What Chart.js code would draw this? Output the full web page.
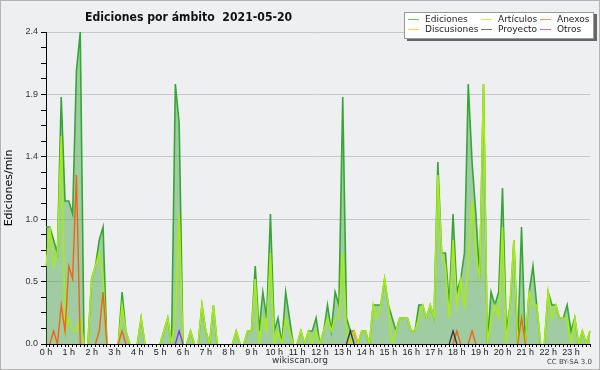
<!DOCTYPE html>
<html>
<head>
<meta charset="utf-8">
<script src="https://cdn.jsdelivr.net/npm/chart.js@4.4.1/dist/chart.umd.min.js"></script>
<style>
  html, body { margin: 0; padding: 0; background: #eeeff1; }
  #wrap { position: relative; width: 600px; height: 370px; overflow: hidden; }
  #chart { position: absolute; left: 0; top: 0; }
  #frame { position: absolute; left: 0; top: 0; width: 600px; height: 370px; box-sizing: border-box; border: 1px solid #b4b4b4; pointer-events: none; }
  #title { position: absolute; left: 85px; top: 9px; font: bold 13px "DejaVu Sans", sans-serif; line-height: 15px; white-space: pre; color: #111; transform: scaleX(0.84); transform-origin: 0 0; }
  #legend { position: absolute; left: 404px; top: 12px; width: 188px; height: 25px; background: #fff; border: 1px solid #999; box-shadow: 3px 2px 0 #666; }
  .item { position: absolute; font: 9px "DejaVu Sans", sans-serif; line-height: 10px; color: #222; white-space: nowrap; }
  .swatch { position: absolute; width: 11px; height: 1px; opacity: 0.7; }
  #site { position: absolute; left: 0; width: 600px; top: 355px; text-align: center; font: 9px "DejaVu Sans", sans-serif; color: #333; }
  #licence { position: absolute; right: 8px; top: 358px; font: 7px "DejaVu Sans", sans-serif; color: #444; }
</style>
</head>
<body>
<div id="wrap">
  <canvas id="chart" width="600" height="370"></canvas>
  <div id="title">Ediciones por ámbito  2021-05-20</div>
  <div id="legend"></div>
  <div id="site">wikiscan.org</div>
  <div id="licence">CC BY-SA 3.0</div>
  <div id="frame"></div>
</div>
<script>
// one value every 10 minutes, edits per minute
const ediciones = [
  0.9,0.9,0.8,0.7,1.9,1.1,1.1,1.0,2.1,2.4,0,0,0.5,0.6,0.8,0.9,0,0,0,0,0.4,0.1,0,0,
  0,0.2,0,0,0,0,0,0.1,0.2,0,2.0,1.7,0,0,0.1,0,0,0.3,0.1,0,0.3,0,0,0,
  0,0,0.1,0,0,0.1,0.1,0.6,0.1,0.4,0.2,1.0,0.1,0.2,0,0.4,0.2,0,0,0.1,0,0.1,0.1,0.2,
  0,0.1,0.3,0.1,0.4,0.3,1.9,0.2,0.1,0.1,0,0.1,0.1,0,0.3,0.3,0.3,0.5,0.3,0.2,0.1,0.2,0.2,0.2,
  0.1,0.1,0.3,0.3,0.2,0.3,0.2,1.4,0.7,0.7,0.3,1.0,0.4,0.5,0.7,2.0,1.4,1.0,0.5,2.0,0,0.4,0.3,0.4,
  1.2,0.1,0.3,0.8,0,0.9,0,0.4,0.6,0.3,0,0,0.4,0.3,0.3,0.2,0.2,0.3,0.1,0.2,0,0.1,0,0.1
];
const articulos = [
  0.6,0.9,0.6,0.7,1.6,0.1,0.2,0.1,0.1,0.2,0,0,0.5,0.6,0.7,0.5,0,0,0,0,0.3,0.1,0,0,
  0,0.2,0,0,0,0,0,0.1,0.2,0,0.2,1.0,0,0,0.1,0,0,0.3,0.1,0,0.3,0,0,0,
  0,0,0.1,0,0,0.1,0.1,0.5,0,0.2,0.1,0.7,0,0.1,0,0.2,0.1,0,0,0.1,0,0.1,0,0.1,
  0,0.1,0.2,0.1,0.2,0.2,0.7,0.1,0,0,0,0.1,0.1,0,0.3,0.2,0.3,0.5,0.3,0,0.1,0.2,0.2,0.2,
  0.1,0.1,0.2,0.3,0.2,0.3,0.2,1.3,0.7,0.6,0.2,0.8,0.3,0.5,0.3,0.6,1.1,0.7,0.5,2.0,0,0.2,0.3,0.2,
  0.9,0,0.3,0.8,0,0.2,0,0.4,0.3,0.3,0,0,0.4,0.2,0.3,0.2,0.2,0.2,0,0.2,0,0.1,0,0.1
];
const anexos = [
  0,0,0.1,0,0.3,0.1,0.6,0.5,1.3,0,0,0,0,0,0.1,0.4,0,0,0,0,0.1,0,0,0,
  0,0,0,0,0,0,0,0,0,0,0,0,0,0,0,0,0,0,0,0,0,0,0,0,
  0,0,0,0,0,0,0,0,0,0,0,0,0,0,0,0,0,0,0,0,0,0,0,0,
  0,0,0,0,0,0,0,0,0,0,0,0,0,0,0,0,0,0,0,0,0,0,0,0,
  0,0,0,0,0,0,0,0,0,0,0,0,0.1,0,0,0,0.1,0,0,0,0,0,0,0,
  0,0,0,0,0,0.2,0,0,0,0,0,0,0,0,0,0,0,0,0,0,0,0,0,0
];
const discusiones = [
  0,0,0,0,0,0,0,0,0,0,0,0,0,0,0,0,0,0,0,0,0,0,0,0,
  0,0,0,0,0,0,0,0,0,0,0,0,0,0,0,0,0,0,0,0,0,0,0,0,
  0,0,0,0,0,0,0,0,0,0,0,0,0,0,0,0,0,0,0,0,0,0,0,0,
  0,0,0,0,0,0,0,0,0,0.1,0,0,0,0,0,0,0,0,0,0,0,0,0,0,
  0,0,0,0,0,0,0,0,0,0,0,0,0,0,0,0,0,0,0,0,0,0,0,0,
  0,0,0,0,0,0,0,0,0,0,0,0,0,0,0,0,0,0,0,0,0,0,0,0
];
const proyecto = [
  0,0,0,0,0,0,0,0,0,0,0,0,0,0,0,0,0,0,0,0,0,0,0,0,
  0,0,0,0,0,0,0,0,0,0,0,0,0,0,0,0,0,0,0,0,0,0,0,0,
  0,0,0,0,0,0,0,0,0,0,0,0,0,0,0,0,0,0,0,0,0,0,0,0,
  0,0,0,0,0,0,0,0,0.1,0,0,0,0,0,0,0,0,0,0,0,0,0,0,0,
  0,0,0,0,0,0,0,0,0,0,0,0.1,0,0,0,0,0,0,0,0,0,0,0,0,
  0,0,0,0,0,0,0,0,0,0,0,0,0,0,0,0,0,0,0,0,0,0,0,0
];
const otros = [
  0,0,0,0,0,0,0,0,0,0,0,0,0,0,0,0,0,0,0,0,0,0,0,0,
  0,0,0,0,0,0,0,0,0,0,0,0.1,0,0,0,0,0,0,0,0,0,0,0,0,
  0,0,0,0,0,0,0,0,0,0,0,0,0,0,0,0,0,0,0,0,0,0,0,0,
  0,0,0,0,0,0,0,0,0,0,0,0,0,0,0,0,0,0,0,0,0,0,0,0,
  0,0,0,0,0,0,0,0,0,0,0,0,0,0,0,0,0,0,0,0,0,0,0,0,
  0,0,0,0,0,0,0,0,0,0,0,0,0,0,0,0,0,0,0,0,0,0,0,0
];
const hourLabels = ['0 h','1 h','2 h','3 h','4 h','5 h','6 h','7 h','8 h','9 h','10 h','11 h',
  '12 h','13 h','14 h','15 h','16 h','17 h','18 h','19 h','20 h','21 h','22 h','23 h'];
const yTicks = [0, 0.12, 0.24, 0.36, 0.48, 0.6, 0.72, 0.84, 0.96, 1.08, 1.2, 1.32, 1.44,
  1.56, 1.68, 1.8, 1.92, 2.04, 2.16, 2.28, 2.4];

const FONT = '"DejaVu Sans", sans-serif';
const TICK_FONT = { family: '"Liberation Sans", sans-serif', size: 9 };
Chart.defaults.font.family = FONT;

// don't draw the parts of a line lying flat on zero
const hideFlat = ctx => (ctx.p0.parsed.y === 0 && ctx.p1.parsed.y === 0) ? 'rgba(0,0,0,0)' : undefined;

function serie(label, data, color, width, order) {
  return {
    label: label,
    data: data,
    borderColor: color,
    backgroundColor: color,
    borderWidth: width,
    pointRadius: 0,
    tension: 0,
    fill: false,
    order: order,
    segment: { borderColor: hideFlat }
  };
}

const total = serie('Ediciones', ediciones, '#36a636', 1.6, 6);
total.fill = 'origin';
total.backgroundColor = 'rgba(60,160,60,0.44)';

const datasets = [
  total,
  serie('Artículos', articulos, '#a8ec10', 1.6, 5),
  serie('Anexos', anexos, '#f06418', 1.4, 4),
  serie('Discusiones', discusiones, '#f5c400', 1.4, 3),
  serie('Proyecto', proyecto, '#3c3c3c', 1.4, 2),
  serie('Otros', otros, '#8a38e8', 1.4, 1)
];

const chart = new Chart(document.getElementById('chart'), {
  type: 'line',
  data: { labels: ediciones.map((v, i) => i), datasets: datasets },
  options: {
    responsive: false,
    animation: false,
    layout: { padding: { top: 32, right: 10, left: 0, bottom: 0 } },
    plugins: { legend: { display: false }, tooltip: { enabled: false } },
    scales: {
      x: {
        type: 'category',
        offset: false,
        z: 1,
        grid: { drawOnChartArea: false, tickLength: 3, tickColor: '#000' },
        border: { color: '#000', width: 1 },
        ticks: {
          autoSkip: false, maxRotation: 0, minRotation: 0, padding: 0,
          color: '#222', font: TICK_FONT,
          callback: (v, i) => i % 6 === 0 ? hourLabels[i / 6] : ''
        },
        afterFit(scale) { scale.height = 26; }
      },
      y: {
        min: 0,
        max: 2.4,
        afterBuildTicks(scale) { scale.ticks = yTicks.map(v => ({ value: v })); },
        grid: {
          color: ctx => ctx.index % 4 === 0 ? '#c8c8c8' : 'rgba(0,0,0,0)',
          tickColor: '#000',
          tickLength: 5
        },
        border: { color: '#000', width: 1 },
        ticks: {
          padding: 3, color: '#333', font: TICK_FONT,
          callback: (v, i) => i % 4 === 0 ? v.toFixed(1) : ''
        },
        title: { display: true, text: 'Ediciones/min', color: '#000', font: { size: 11 }, padding: { top: 3, bottom: 0 } },
        afterFit(scale) { scale.width = 46; }
      }
    }
  }
});

// legend, 3 columns x 2 rows, built from the datasets
const legendCols = [3, 76, 135];
const legendRows = [6, 16];
const legend = document.getElementById('legend');
chart.data.datasets.forEach((ds, k) => {
  const col = legendCols[k % 3];
  const row = legendRows[Math.floor(k / 3)];
  const sw = document.createElement('div');
  sw.className = 'swatch';
  sw.style.left = col + 'px';
  sw.style.top = row + 'px';
  sw.style.background = ds.borderColor;
  legend.appendChild(sw);
  const tx = document.createElement('div');
  tx.className = 'item';
  tx.style.left = (col + 17) + 'px';
  tx.style.top = (row - 5) + 'px';
  tx.textContent = ds.label;
  legend.appendChild(tx);
});
</script>
</body>
</html>
